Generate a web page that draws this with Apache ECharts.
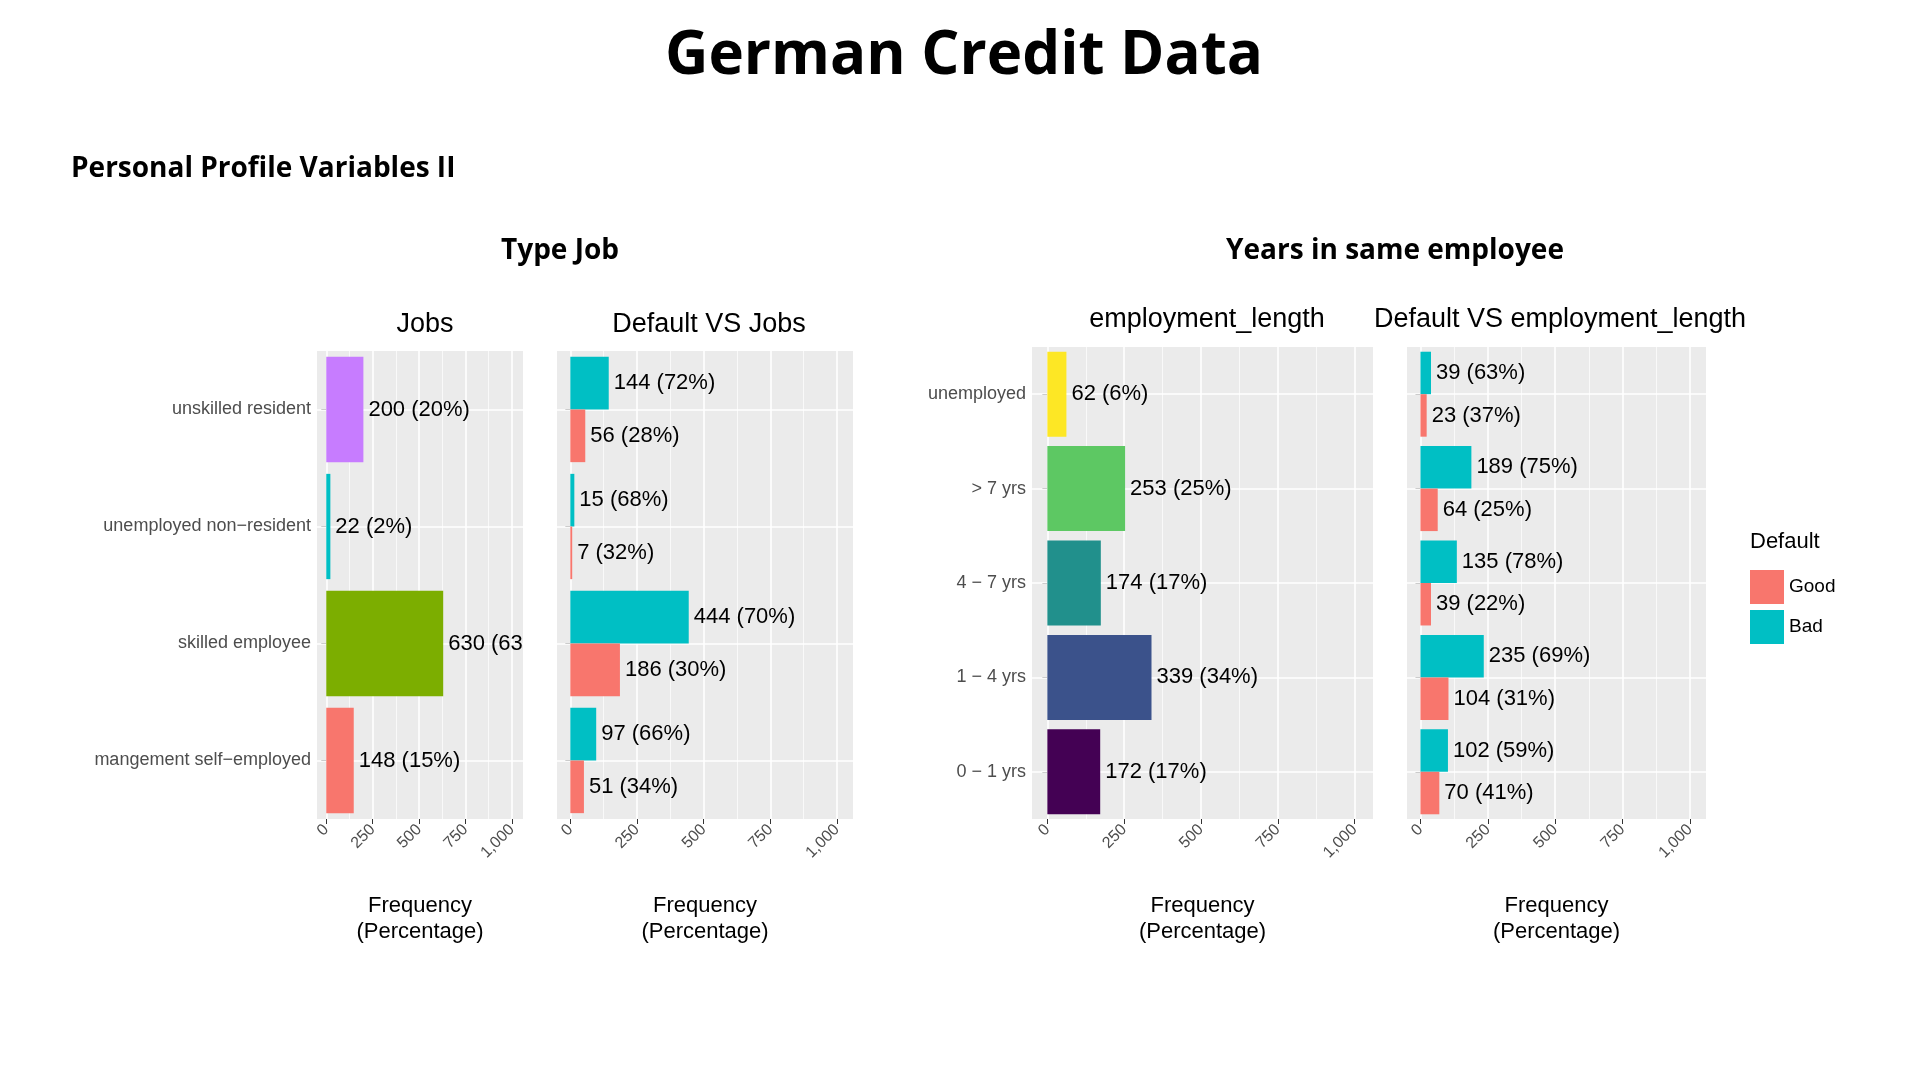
<!DOCTYPE html>
<html>
<head>
<meta charset="utf-8">
<script src="https://cdn.jsdelivr.net/npm/echarts@6/dist/echarts.min.js"></script>
<style>
  html, body { margin: 0; padding: 0; background: #fff; }
  #main { width: 1920px; height: 1080px; }
</style>
</head>
<body>
<div id="main"></div>
<script>
// data
var jobCats = ['unskilled resident', 'unemployed non\u2212resident', 'skilled employee', 'mangement self\u2212employed'];
var jobCounts = [200, 22, 630, 148];
var jobPcts = ['20%', '2%', '63%', '15%'];
var jobBad = [144, 15, 444, 97];
var jobBadPct = ['72%', '68%', '70%', '66%'];
var jobGood = [56, 7, 186, 51];
var jobGoodPct = ['28%', '32%', '30%', '34%'];

var empCats = ['unemployed', '> 7 yrs', '4 \u2212 7 yrs', '1 \u2212 4 yrs', '0 \u2212 1 yrs'];
var empCounts = [62, 253, 174, 339, 172];
var empPcts = ['6%', '25%', '17%', '34%', '17%'];
var empBad = [39, 189, 135, 235, 102];
var empBadPct = ['63%', '75%', '78%', '69%', '59%'];
var empGood = [23, 64, 39, 104, 70];
var empGoodPct = ['37%', '25%', '22%', '31%', '41%'];

var xTicks = [0, 250, 500, 750, 1000];
var xMinor = [125, 375, 625, 875];

var jobColors = ['#C77CFF', '#00BFC4', '#7CAE00', '#F8766D'];
var empColors = ['#FDE725', '#5DC863', '#21908C', '#3B528B', '#440154'];
var GOOD = '#F8766D', BAD = '#00BFC4';

var FONT = 'Liberation Sans, Arial, sans-serif';
var chart = echarts.init(document.getElementById('main'));

var grids = [
  { left: 317, top: 351, width: 206, height: 468 },
  { left: 557, top: 351, width: 296, height: 468 },
  { left: 1032, top: 347, width: 341, height: 472 },
  { left: 1407, top: 347, width: 299, height: 472 }
];
grids.forEach(function (g) { g.show = true; g.backgroundColor = '#EBEBEB'; g.borderWidth = 0; });

function xAxisFor(i) {
  return {
    gridIndex: i, type: 'value', min: -50, max: 1060,
    axisLine: { show: false }, splitLine: { show: false },
    axisTick: { show: true, customValues: xTicks, length: 5, lineStyle: { color: '#333' } },
    axisLabel: { customValues: xTicks, rotate: 45, color: '#4D4D4D', fontSize: 16, fontFamily: FONT, margin: 8 },
    name: 'Frequency\n(Percentage)', nameLocation: 'middle', nameGap: 74,
    nameTextStyle: { color: '#000', fontSize: 22, fontFamily: FONT, lineHeight: 26 }
  };
}
function yAxisFor(i, cats, showLabels) {
  return {
    gridIndex: i, type: 'category', data: cats, inverse: true,
    axisLine: { show: false }, splitLine: { show: false },
    axisTick: { show: true, alignWithLabel: true, length: 5, lineStyle: { color: '#333' } },
    axisLabel: { show: showLabels, color: '#4D4D4D', fontSize: 18, fontFamily: FONT, margin: 6, formatter: showLabels ? null : function () { return ''; } }
  };
}
function gridSeries(i, cats) {
  var lines = [];
  xTicks.forEach(function (v) { lines.push({ xAxis: v, lineStyle: { color: '#fff', width: 1.6, type: 'solid' } }); });
  xMinor.forEach(function (v) { lines.push({ xAxis: v, lineStyle: { color: '#fff', width: 0.7, type: 'solid' } }); });
  cats.forEach(function (c) { lines.push({ yAxis: c, lineStyle: { color: '#fff', width: 1.6, type: 'solid' } }); });
  return {
    type: 'scatter', xAxisIndex: i, yAxisIndex: i, z: 1, silent: true,
    symbolSize: 0, data: [[0, cats[0]]],
    markLine: { silent: true, symbol: 'none', label: { show: false }, data: lines, z: 1 }
  };
}
function lbl(pcts) {
  return {
    show: true, position: 'right', distance: 5, color: '#000', fontSize: 22, fontFamily: FONT,
    formatter: function (p) { return p.value + ' (' + pcts[p.dataIndex] + ')'; }
  };
}
function single(i, vals, pcts, colors) {
  return {
    type: 'bar', xAxisIndex: i, yAxisIndex: i, z: 3, barCategoryGap: '10%',
    data: vals.map(function (v, k) { return { value: v, itemStyle: { color: colors[k] } }; }),
    label: lbl(pcts)
  };
}
function dodge(i, name, vals, pcts, color) {
  return {
    name: name, type: 'bar', xAxisIndex: i, yAxisIndex: i, z: 3,
    barCategoryGap: '10%', barGap: '0%', itemStyle: { color: color },
    data: vals, label: lbl(pcts)
  };
}

var titleStyle = { color: '#000', fontSize: 27, fontFamily: FONT, fontWeight: 'normal' };
var boldStyle = { color: '#000', fontFamily: 'Open Sans, Liberation Sans, sans-serif', fontWeight: 'bold' };

chart.setOption({
  animation: false,
  title: [
    { text: 'German Credit Data', left: 959, top: 22, textAlign: 'center', textStyle: Object.assign({}, boldStyle, { fontSize: 60 }) },
    { text: 'Personal Profile Variables II', left: 66, top: 150, textStyle: Object.assign({}, boldStyle, { fontSize: 28 }) },
    { text: 'Type Job', left: 555, top: 232, textAlign: 'center', textStyle: Object.assign({}, boldStyle, { fontSize: 28 }) },
    { text: 'Years in same employee', left: 1390, top: 232, textAlign: 'center', textStyle: Object.assign({}, boldStyle, { fontSize: 28 }) },
    { text: 'Jobs', left: 420, top: 306, textAlign: 'center', textStyle: titleStyle },
    { text: 'Default VS Jobs', left: 704, top: 306, textAlign: 'center', textStyle: titleStyle },
    { text: 'employment_length', left: 1202, top: 301, textAlign: 'center', textStyle: titleStyle },
    { text: 'Default VS employment_length', left: 1555, top: 301, textAlign: 'center', textStyle: titleStyle },
    { text: 'Default', left: 1745, top: 526, textStyle: { color: '#000', fontSize: 22, fontFamily: FONT, fontWeight: 'normal' } }
  ],
  legend: {
    data: ['Good', 'Bad'], orient: 'vertical', left: 1745, top: 565,
    icon: 'rect', itemWidth: 34, itemHeight: 34, itemGap: 6,
    textStyle: { color: '#000', fontSize: 19, fontFamily: FONT }
  },
  grid: grids,
  xAxis: [xAxisFor(0), xAxisFor(1), xAxisFor(2), xAxisFor(3)],
  yAxis: [yAxisFor(0, jobCats, true), yAxisFor(1, jobCats, false), yAxisFor(2, empCats, true), yAxisFor(3, empCats, false)],
  series: [
    gridSeries(0, jobCats), gridSeries(1, jobCats), gridSeries(2, empCats), gridSeries(3, empCats),
    single(0, jobCounts, jobPcts, jobColors),
    dodge(1, 'Bad', jobBad, jobBadPct, BAD),
    dodge(1, 'Good', jobGood, jobGoodPct, GOOD),
    single(2, empCounts, empPcts, empColors),
    dodge(3, 'Bad', empBad, empBadPct, BAD),
    dodge(3, 'Good', empGood, empGoodPct, GOOD)
  ],
  graphic: [
    { type: 'rect', z: 100, shape: { x: 523, y: 351, width: 34, height: 468 }, style: { fill: '#fff' } }
  ]
});
</script>
</body>
</html>
